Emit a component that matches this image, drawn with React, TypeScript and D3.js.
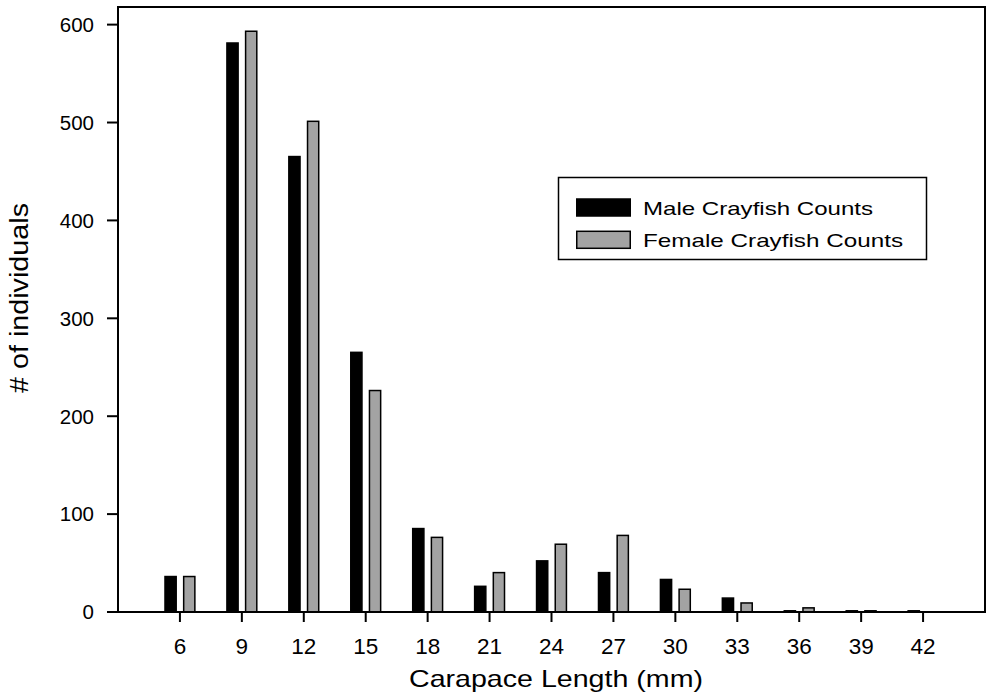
import React from "react";
import * as d3 from "d3";

const lengths = [6, 9, 12, 15, 18, 21, 24, 27, 30, 33, 36, 39, 42];
const maleCounts = [37, 582, 466, 266, 86, 27, 53, 41, 34, 15, 2, 2, 2];
const femaleCounts = [37, 594, 502, 227, 77, 41, 70, 79, 24, 10, 5, 2, 0];
const yTicks = [0, 100, 200, 300, 400, 500, 600];
const seriesNames = ["Male Crayfish Counts", "Female Crayfish Counts"];
const seriesColors = ["#000000", "#a3a3a3"];

const W = 987;
const H = 699;
const FONT = "'Liberation Sans', Arial, Helvetica, sans-serif";

export default function App() {
  const left = 118;
  const right = 985;
  const top = 7;
  const bottom = 612;

  const x = d3.scaleLinear().domain([3, 45]).range([left, right]);
  const y = d3.scaleLinear().domain([0, 618]).range([bottom, top]);

  // bar offsets (in mm) relative to the category center
  const offsets = [
    [-0.76, -0.145],
    [0.145, 0.76],
  ];
  const sw = 1.5;

  const series = [maleCounts, femaleCounts];

  return (
    <svg
      width={W}
      height={H}
      style={{ position: "absolute", left: 0, top: 0, background: "#fff" }}
      fontFamily={FONT}
    >
      <rect x={0} y={0} width={W} height={H} fill="#fff" />
      {series.map((vals, si) =>
        lengths.map((c, i) => {
          const v = vals[i];
          if (v <= 0) return null;
          const x0 = x(c + offsets[si][0]);
          const x1 = x(c + offsets[si][1]);
          const y0 = y(v);
          return (
            <rect
              key={`${si}-${c}`}
              x={x0 + sw / 2}
              y={y0 + sw / 2}
              width={Math.max(0, x1 - x0 - sw)}
              height={Math.max(0, bottom - y0 - sw / 2)}
              fill={seriesColors[si]}
              stroke="#000"
              strokeWidth={sw}
            />
          );
        })
      )}

      {/* frame */}
      <path
        d={`M${left},${bottom}V${top}H${right}V${bottom}Z`}
        fill="none"
        stroke="#000"
        strokeWidth={2}
      />

      {/* y ticks */}
      {yTicks.map((t) => (
        <g key={`y${t}`}>
          <line x1={left - 11} x2={left} y1={y(t)} y2={y(t)} stroke="#000" strokeWidth={2} />
          <text
            x={left - 24}
            y={y(t)}
            dy="0.36em"
            textAnchor="end"
            fontSize={20.5}
            fill="#000"
          >
            {t}
          </text>
        </g>
      ))}

      {/* x ticks */}
      {lengths.map((c) => (
        <g key={`x${c}`}>
          <line x1={x(c)} x2={x(c)} y1={bottom} y2={bottom + 10} stroke="#000" strokeWidth={2} />
          <text x={x(c)} y={654} textAnchor="middle" fontSize={22.5} fill="#000">
            {c}
          </text>
        </g>
      ))}

      {/* axis titles */}
      <text
        x={556}
        y={687}
        textAnchor="middle"
        fontSize={24}
        textLength={294}
        lengthAdjust="spacingAndGlyphs"
        fill="#000"
      >
        Carapace Length (mm)
      </text>
      <text
        transform={`translate(28,298) rotate(-90)`}
        textAnchor="middle"
        fontSize={25}
        textLength={190}
        lengthAdjust="spacingAndGlyphs"
        fill="#000"
      >
        # of individuals
      </text>

      {/* legend */}
      <rect x={558.5} y={177.5} width={368} height={82} fill="#fff" stroke="#000" strokeWidth={1.5} />
      {seriesNames.map((name, i) => (
        <g key={name}>
          <rect
            x={576.75}
            y={199 + i * 32.3}
            width={53.5}
            height={17}
            fill={seriesColors[i]}
            stroke="#000"
            strokeWidth={1.5}
          />
          <text
            x={643}
            y={215 + i * 32.3}
            fontSize={19}
            textLength={i === 0 ? 230 : 260}
            lengthAdjust="spacingAndGlyphs"
            fill="#000"
          >
            {name}
          </text>
        </g>
      ))}
    </svg>
  );
}
